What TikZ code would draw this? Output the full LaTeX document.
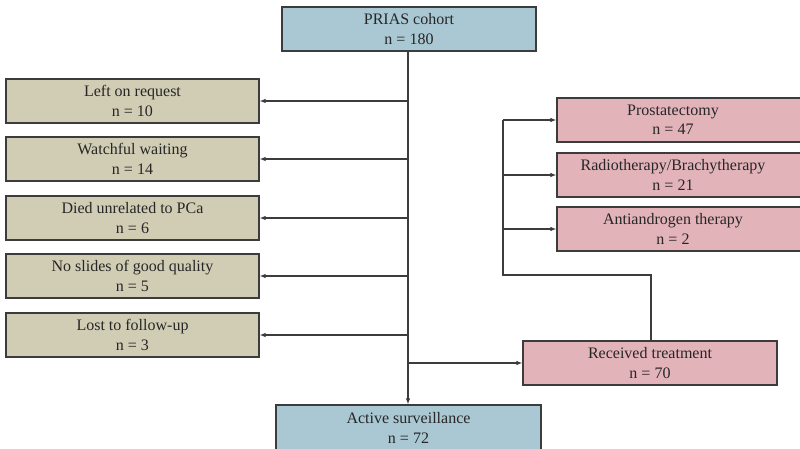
\documentclass[tikz,border=0pt]{standalone}
\usepackage{fontspec}
\setmainfont{Liberation Serif}
\usetikzlibrary{arrows.meta}
\definecolor{bluebox}{HTML}{AAC8D3}
\definecolor{tanbox}{HTML}{D1CDB5}
\definecolor{pinkbox}{HTML}{E3B3BA}
\definecolor{edge}{HTML}{3C3C3C}
\begin{document}
\begin{tikzpicture}[x=1pt,y=-1pt,
  box/.style={draw=edge,line width=1.2pt,align=center,inner sep=0pt,
    font=\fontsize{16}{19.5}\selectfont,text=black!85},
  bluestyle/.style={box,fill=bluebox},
  tanstyle/.style={box,fill=tanbox,minimum width=253pt,minimum height=44pt},
  pinkstyle/.style={box,fill=pinkbox,minimum height=44pt},
  link/.style={draw=edge,line width=1.2pt},
  arr/.style={link,-{Latex[length=6pt,width=4.5pt]}}]
\useasboundingbox (0,0) rectangle (800,449);
\node[bluestyle,minimum width=254pt,minimum height=44pt] (prias) at (409,29) {PRIAS cohort\\n = 180};
\node[tanstyle] (l1) at (132.5,101) {Left on request\\n = 10};
\node[tanstyle] (l2) at (132.5,159) {Watchful waiting\\n = 14};
\node[tanstyle] (l3) at (132.5,218) {Died unrelated to PCa\\n = 6};
\node[tanstyle] (l4) at (132.5,276) {No slides of good quality\\n = 5};
\node[tanstyle] (l5) at (132.5,335) {Lost to follow-up\\n = 3};
\node[pinkstyle,minimum width=254pt] (rt) at (650,363) {Received treatment\\n = 70};
\node[pinkstyle,minimum width=244pt] (r1) at (679,120) {\hspace*{-12pt}Prostatectomy\\\hspace*{-12pt}n = 47};
\node[pinkstyle,minimum width=244pt] (r2) at (679,175) {\hspace*{-12pt}Radiotherapy/Brachytherapy\\\hspace*{-12pt}n = 21};
\node[pinkstyle,minimum width=244pt] (r3) at (679,229) {\hspace*{-12pt}Antiandrogen therapy\\\hspace*{-12pt}n = 2};
\node[bluestyle,minimum width=265pt,minimum height=46pt] (as) at (408.5,428) {Active surveillance\\n = 72};
% trunk
\coordinate (t1) at (408,101);
\coordinate (t2) at (408,159);
\coordinate (t3) at (408,218);
\coordinate (t4) at (408,276);
\coordinate (t5) at (408,335);
\coordinate (t6) at (408,363);
\draw[arr] (prias.south -| t1) -- (as.north -| t1);
\draw[arr] (t1) -- (l1.east);
\draw[arr] (t2) -- (l2.east);
\draw[arr] (t3) -- (l3.east);
\draw[arr] (t4) -- (l4.east);
\draw[arr] (t5) -- (l5.east);
\draw[arr] (t6) -- (rt.west);
% treatment branch
\coordinate (b0) at (651,275);
\coordinate (v0) at (503,275);
\coordinate (v1) at (503,120);
\coordinate (v2) at (503,175);
\coordinate (v3) at (503,229);
\draw[link] (rt.north -| b0) -- (b0) -- (v0) -- (v1);
\draw[arr] (v1) -- (r1.west);
\draw[arr] (v2) -- (r2.west);
\draw[arr] (v3) -- (r3.west);
\end{tikzpicture}
\end{document}
